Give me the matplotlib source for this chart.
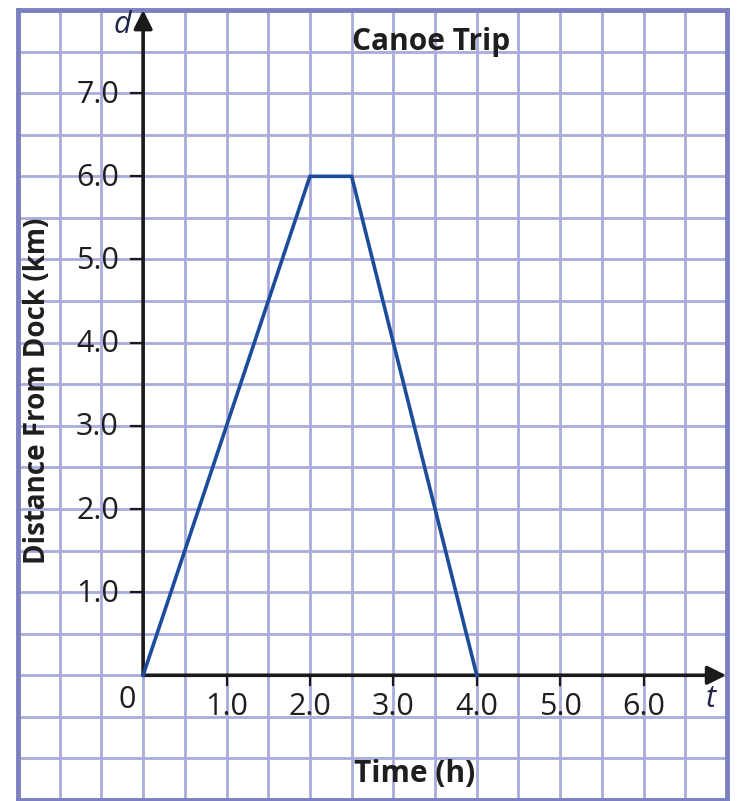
import numpy as np
import matplotlib
matplotlib.use('Agg')
import matplotlib.pyplot as plt

# trip data
time_h = [0.0, 2.0, 2.5, 4.0]
dist_km = [0.0, 6.0, 6.0, 0.0]

x_ticks = [1.0, 2.0, 3.0, 4.0, 5.0, 6.0]
y_ticks = [1.0, 2.0, 3.0, 4.0, 5.0, 6.0, 7.0]
x_labels = ['1.0', '2.0', '3.0', '4.0', '5.0', '6.0']
y_labels = ['1.0', '2.0', '3.0', '4.0', '5.0', '6.0', '7.0']

plt.rcParams['font.family'] = ['Open Sans', 'DejaVu Sans']
text_col = '#1e1e1e'
grid_col = '#a9abdb'
border_col = '#7c80c0'

fig = plt.figure(figsize=(7.37, 8.01), dpi=100)
ax = fig.add_axes([18 / 737, 1 / 801, (727 - 18) / 737, (800 - 10) / 801])
ax.set_xlim(-1.5, 7.0)
ax.set_ylim(-1.5, 8.0)

# grid paper
ax.set_xticks(np.arange(-1.5, 7.01, 0.5))
ax.set_yticks(np.arange(-1.5, 8.01, 0.5))
ax.tick_params(length=0, labelbottom=False, labelleft=False)
ax.grid(True, color=grid_col, lw=2.0)
ax.set_axisbelow(True)
for s in ax.spines.values():
    s.set_color(border_col)
    s.set_linewidth(3.5)

# axes with arrows
ax.annotate('', xy=(6.99, 0), xytext=(0, 0),
            arrowprops=dict(arrowstyle='-|>', color='#1a1a1a', lw=2.6,
                            mutation_scale=28, shrinkA=0, shrinkB=0))
ax.annotate('', xy=(0, 8.0), xytext=(0, 0),
            arrowprops=dict(arrowstyle='-|>', color='#1a1a1a', lw=2.6,
                            mutation_scale=28, shrinkA=0, shrinkB=0),
            annotation_clip=False)

# tick marks
for xv in x_ticks:
    ax.plot([xv, xv], [0, -0.12], color='#1a1a1a', lw=1.6)
for yv in y_ticks:
    ax.plot([-0.14, 0], [yv, yv], color='#1a1a1a', lw=1.6)

# tick labels
for xv, lab in zip(x_ticks, x_labels):
    ax.text(xv, -0.38, lab, ha='center', va='center', fontsize=22, color=text_col)
for yv, lab in zip(y_ticks, y_labels):
    ax.text(-0.29, yv - 0.02, lab, ha='right', va='center', fontsize=22, color=text_col)
ax.text(-0.19, -0.3, '0', ha='center', va='center', fontsize=22, color=text_col)
ax.text(-0.25, 7.82, 'd', ha='center', va='center', fontsize=22, style='italic', color='#22264a')
ax.text(6.8, -0.29, 't', ha='center', va='center', fontsize=22, style='italic', color='#22264a')

# trip line
ax.plot(time_h, dist_km, color='#1c4c9a', lw=2.6, solid_joinstyle='miter', zorder=3)

ax.text(3.45, 7.62, 'Canoe Trip', ha='center', va='center', fontsize=21.5,
        fontweight='bold', color=text_col)
ax.text(3.25, -1.19, 'Time (h)', ha='center', va='center', fontsize=21.5,
        fontweight='bold', color=text_col)
ax.text(-1.27, 3.42, 'Distance From Dock (km)', ha='center', va='center', fontsize=20,
        fontweight='bold', rotation=90, color=text_col)

fig.savefig('out.png', dpi=100)
